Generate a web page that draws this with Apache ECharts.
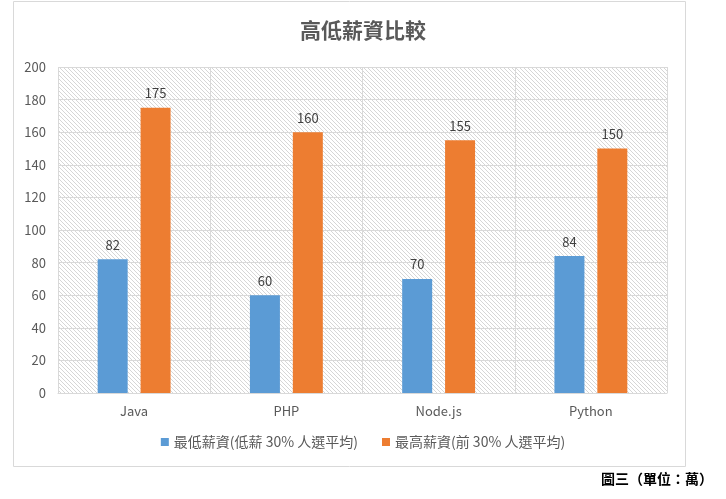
<!DOCTYPE html>
<html><head><meta charset="utf-8">
<script src="https://cdn.jsdelivr.net/npm/echarts@6/dist/echarts.min.js"></script>
<style>html,body{margin:0;padding:0;background:#fff}#c{width:726px;height:499px}</style>
</head><body><div id="c"></div>
<script>
const categories = ['Java', 'PHP', 'Node.js', 'Python'];
const lowSalary = [82, 60, 70, 84];
const highSalary = [175, 160, 155, 150];
const seriesNames = ['最低薪資(低薪 30% 人選平均)', '最高薪資(前 30% 人選平均)'];
const titleText = '高低薪資比較';
const captionText = '圖三（單位：萬）';

const pc = document.createElement('canvas');
pc.width = 4; pc.height = 4;
const g = pc.getContext('2d');
g.fillStyle = '#d6d6d6';
for (let i = 0; i < 4; i++) g.fillRect(i, i, 1, 1);

const font = "'Microsoft JhengHei','Noto Sans CJK TC',sans-serif";
const chart = echarts.init(document.getElementById('c'));
chart.setOption({
  animation: false,
  title: { text: titleText, left: 'center', top: 15, textStyle: { color: '#595959', fontSize: 21, fontWeight: 'bold', fontFamily: font } },
  legend: { bottom: 45, itemWidth: 8, itemHeight: 8, itemGap: 24, icon: 'rect',
    textStyle: { color: '#595959', fontSize: 14, fontFamily: font } },
  grid: { left: 58, right: 59, top: 67, bottom: 106, show: true, borderWidth: 0,
    backgroundColor: { image: pc, repeat: 'repeat' } },
  xAxis: { type: 'category', data: categories,
    axisLine: { lineStyle: { color: '#d9d9d9' } }, axisTick: { show: false },
    splitLine: { show: true, lineStyle: { color: '#d9d9d9' } },
    axisLabel: { color: '#595959', fontSize: 13, margin: 12, fontFamily: font } },
  yAxis: { type: 'value', min: 0, max: 200, interval: 20,
    axisLine: { show: false }, axisTick: { show: false },
    splitLine: { lineStyle: { color: '#d9d9d9' } },
    axisLabel: { color: '#595959', fontSize: 13, margin: 12, fontFamily: font } },
  series: [
    { name: seriesNames[0], type: 'bar', data: lowSalary, barWidth: 30, barGap: '43%',
      itemStyle: { color: '#5B9BD5' },
      label: { show: true, position: 'top', distance: 8, color: '#404040', fontSize: 13, fontFamily: font } },
    { name: seriesNames[1], type: 'bar', data: highSalary, barWidth: 30,
      itemStyle: { color: '#ED7D31' },
      label: { show: true, position: 'top', distance: 8, color: '#404040', fontSize: 13, fontFamily: font } }
  ],
  graphic: [
    { type: 'rect', shape: { x: 13.5, y: 1.5, width: 672, height: 465 }, style: { fill: 'none', stroke: '#d9d9d9', lineWidth: 1 }, silent: true },
    { type: 'text', left: 601, top: 472, style: { text: captionText, fill: '#000', font: "bold 14px 'Microsoft JhengHei','Noto Sans CJK TC',sans-serif" } }
  ]
});
</script></body></html>
